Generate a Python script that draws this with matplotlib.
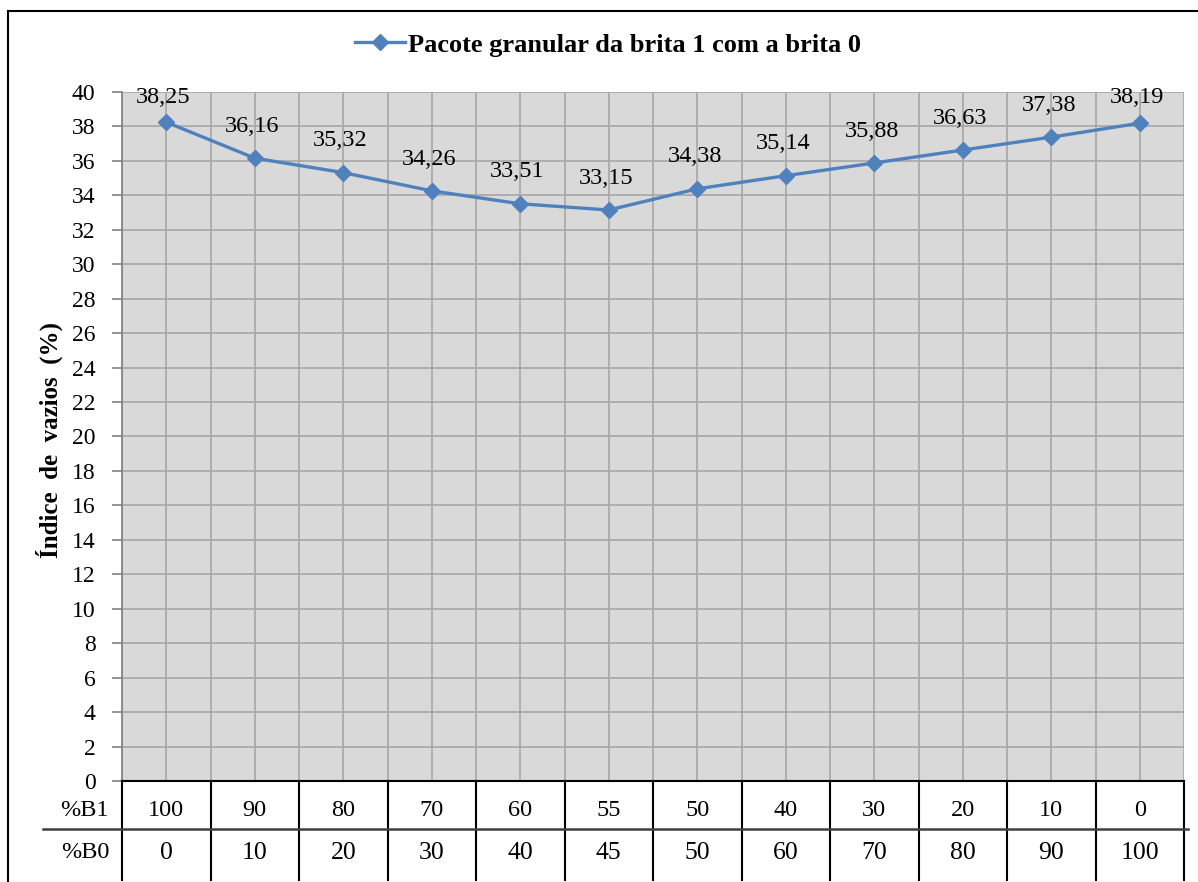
import matplotlib
matplotlib.use("Agg")
import matplotlib.pyplot as plt
from matplotlib.lines import Line2D
import numpy as np

# Mix proportions (%) of brita 1 and brita 0, and measured void index (%)
pct_b1 = [100, 90, 80, 70, 60, 55, 50, 40, 30, 20, 10, 0]
pct_b0 = [0, 10, 20, 30, 40, 45, 50, 60, 70, 80, 90, 100]
void_index = [38.25, 36.16, 35.32, 34.26, 33.51, 33.15, 34.38, 35.14, 35.88, 36.63, 37.38, 38.19]
series_name = "Pacote granular da brita 1 com a brita 0"
y_label = "Índice  de  vazios  (%)"
row_labels = ["%B1", "%B0"]

W, H = 1198, 882
plt.rcParams["font.family"] = ["Liberation Serif", "DejaVu Serif"]

fig = plt.figure(figsize=(W / 100, H / 100), dpi=100)
fig.patch.set_facecolor("white")

# plot area in pixel bounds
left_px, right_px, top_px, bottom_px = 122, 1184, 92, 781
ax = fig.add_axes([left_px / W, 1 - bottom_px / H,
                   (right_px - left_px) / W, (bottom_px - top_px) / H])
ax.set_facecolor("#D9D9D9")

x = np.arange(len(void_index))
line_color = "#4F81BD"
ax.plot(x, void_index, color=line_color, lw=2.4, marker="D", ms=8.5,
        markeredgecolor=line_color, markerfacecolor=line_color, zorder=5,
        label=series_name, clip_on=False)

# value labels above each point, kept inside the top of the chart
ymax = 40
for xi, v in zip(x, void_index):
    ly = min(v + 1.85, ymax - 0.3)
    ax.text(xi - 0.03, ly, f"{v:.2f}".replace(".", ","), ha="center",
            va="center", fontsize=17.5, color="black", zorder=6)

ax.set_xlim(-0.5, len(x) - 0.5)
ax.set_ylim(0, ymax)
ax.set_yticks(np.arange(0, 41, 2))
ax.set_xticks(np.arange(-0.5, len(x)), minor=False)
ax.set_xticks(x, minor=True)
ax.set_xticklabels([])
ax.tick_params(axis="x", which="both", length=0)
ax.tick_params(axis="y", length=7, width=1.2, color="#808080",
               labelsize=17, pad=12)
ax.grid(True, which="major", color="#A6A6A6", lw=1.2)
ax.grid(True, which="minor", axis="x", color="#A6A6A6", lw=1.2)
ax.set_axisbelow(True)

for side in ["top", "right"]:
    ax.spines[side].set_visible(False)
ax.spines["left"].set_color("#808080")
ax.spines["left"].set_linewidth(1.2)
ax.spines["bottom"].set_color("black")
ax.spines["bottom"].set_linewidth(1.5)

ax.set_ylabel(y_label, fontsize=18, fontweight="bold")
ax.yaxis.set_label_coords(-0.056, 0.495)

# data table under the axis
bt = ax.get_xaxis_transform()
ax_h = bottom_px - top_px
row1_y = -(811 - bottom_px) / ax_h
row2_y = -(853 - bottom_px) / ax_h
vline_bot = -(880 - bottom_px) / ax_h
for b in np.arange(-0.5, len(x)):
    ax.add_line(Line2D([b, b], [0, vline_bot], transform=bt, color="black",
                       lw=1.5, clip_on=False))
for xi, a, b in zip(x, pct_b1, pct_b0):
    ax.text(xi, row1_y, str(a), transform=bt, ha="center", va="center",
            fontsize=17.5)
    ax.text(xi, row2_y, str(b), transform=bt, ha="center", va="center",
            fontsize=18.5)

fig.add_artist(Line2D([43 / W, 1188 / W], [1 - 829 / H, 1 - 829 / H],
                      transform=fig.transFigure, color="#404040", lw=1.8))
fig.text(109 / W, 1 - 811 / H, row_labels[0], ha="right", va="center",
         fontsize=17.5)
fig.text(109 / W, 1 - 853 / H, row_labels[1], ha="right", va="center",
         fontsize=17.5)

# outer chart frame (left and top edges)
fig.add_artist(Line2D([8 / W, 8 / W], [0, 1 - 11 / H], transform=fig.transFigure,
                      color="black", lw=1.5))
fig.add_artist(Line2D([8 / W, 1], [1 - 11 / H, 1 - 11 / H],
                      transform=fig.transFigure, color="black", lw=1.5))

leg = ax.legend(loc="center", bbox_to_anchor=(608 / W, 1 - 45 / H),
                bbox_transform=fig.transFigure, frameon=False,
                prop={"weight": "bold", "size": 19}, handlelength=1.9,
                handletextpad=0.1)

fig.savefig("out.png", dpi=100)
